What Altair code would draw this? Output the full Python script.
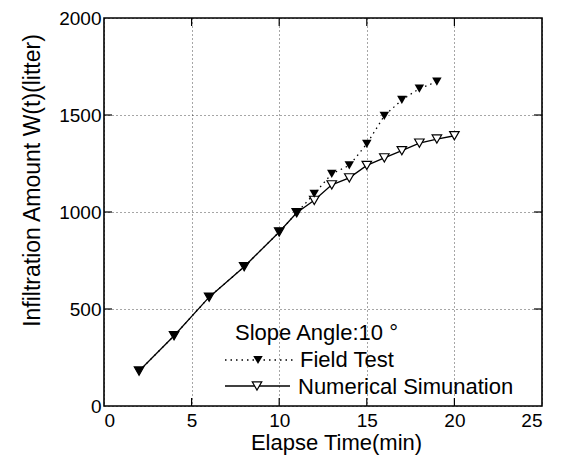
import altair as alt
import pandas as pd

# Data
field_time = [2, 4, 6, 8, 10, 11, 12, 13, 14, 15, 16, 17, 18, 19]
field_amount = [180, 362, 561, 718, 897, 996, 1094, 1197, 1240, 1351, 1496, 1578, 1636, 1672]
num_time = [2, 4, 6, 8, 10, 11, 12, 13, 14, 15, 16, 17, 18, 19, 20]
num_amount = [180, 362, 561, 718, 897, 996, 1060, 1140, 1176, 1240, 1279, 1316, 1355, 1376, 1393]
x_ticks = [0, 5, 10, 15, 20, 25]
y_ticks = [0, 500, 1000, 1500, 2000]
x_inner_ticks = [5, 10, 15, 20]
y_inner_ticks = [500, 1000, 1500]

FONT = "Liberation Sans"
W, H = 438, 388

field = pd.DataFrame({"t": field_time, "w": field_amount})
num = pd.DataFrame({"t": num_time, "w": num_amount})

xs = alt.Scale(domain=[0, 25], nice=False)
ys = alt.Scale(domain=[0, 2000], nice=False)

x_axis = alt.Axis(values=x_ticks, format="d", ticks=False, domain=False, grid=True,
                  gridDash=[1, 3], gridColor="#000", gridOpacity=0.7,
                  labelFontSize=19, labelFont=FONT, labelColor="#000", labelPadding=5,
                  title="Elapse Time(min)", titleFontSize=22, titleFont=FONT,
                  titleFontWeight="normal", titleColor="#000",
                  titleX=232, titleY=43, titleBaseline="alphabetic", titleAlign="center")
y_axis = alt.Axis(values=y_ticks, format="d", ticks=False, domain=False, grid=True,
                  gridDash=[1, 3], gridColor="#000", gridOpacity=0.7,
                  labelFontSize=19, labelFont=FONT, labelColor="#000", labelPadding=3,
                  title="Infiltration Amount W(t)(litter)", titleFontSize=23, titleFont=FONT,
                  titleFontWeight="normal", titleColor="#000",
                  titleX=-72, titleY=162, titleBaseline="middle", titleAlign="center")

base_num = alt.Chart(num)
base_field = alt.Chart(field)

num_line = base_num.mark_line(color="#000", strokeWidth=1.3).encode(
    x=alt.X("t:Q", scale=xs, axis=x_axis),
    y=alt.Y("w:Q", scale=ys, axis=y_axis),
)
num_pts = base_num.mark_point(shape="triangle-down", size=90, filled=True,
                              fill="white", stroke="#000", strokeWidth=1.2, opacity=1).encode(
    x=alt.X("t:Q", scale=xs), y=alt.Y("w:Q", scale=ys))
field_line = base_field.mark_line(color="#000", strokeWidth=1.3, strokeDash=[1.5, 4]).encode(
    x=alt.X("t:Q", scale=xs), y=alt.Y("w:Q", scale=ys))
field_pts = base_field.mark_point(shape="triangle-down", size=90, filled=True,
                                  color="#000", opacity=1).encode(
    x=alt.X("t:Q", scale=xs), y=alt.Y("w:Q", scale=ys))

# inward ticks on all four sides
xt = pd.DataFrame({"t": x_inner_ticks})
yt = pd.DataFrame({"w": y_inner_ticks})
tick_b = alt.Chart(xt).mark_rule(color="#000", strokeWidth=1.2).encode(
    x=alt.X("t:Q", scale=xs), y=alt.value(H), y2=alt.value(H - 8))
tick_t = alt.Chart(xt).mark_rule(color="#000", strokeWidth=1.2).encode(
    x=alt.X("t:Q", scale=xs), y=alt.value(0), y2=alt.value(8))
tick_l = alt.Chart(yt).mark_rule(color="#000", strokeWidth=1.2).encode(
    y=alt.Y("w:Q", scale=ys), x=alt.value(0), x2=alt.value(8))
tick_r = alt.Chart(yt).mark_rule(color="#000", strokeWidth=1.2).encode(
    y=alt.Y("w:Q", scale=ys), x=alt.value(W), x2=alt.value(W - 8))

# manual legend
one = alt.Chart(pd.DataFrame({"a": [0]}))
leg_title = one.mark_text(align="left", baseline="middle", font=FONT, fontSize=22, color="#000").encode(
    x=alt.value(131), y=alt.value(315), text=alt.value("Slope Angle:10 °"))
leg_f_line = one.mark_rule(color="#000", strokeWidth=1.3, strokeDash=[1.5, 4]).encode(
    x=alt.value(121), x2=alt.value(189), y=alt.value(342))
leg_f_pt = one.mark_point(shape="triangle-down", size=90, filled=True, color="#000", opacity=1).encode(
    x=alt.value(154), y=alt.value(342))
leg_f_txt = one.mark_text(align="left", baseline="middle", font=FONT, fontSize=22, color="#000").encode(
    x=alt.value(196), y=alt.value(342), text=alt.value("Field Test"))
leg_n_line = one.mark_rule(color="#000", strokeWidth=1.3).encode(
    x=alt.value(121), x2=alt.value(186), y=alt.value(368))
leg_n_pt = one.mark_point(shape="triangle-down", size=90, filled=True, fill="white",
                          stroke="#000", strokeWidth=1.2, opacity=1).encode(
    x=alt.value(153), y=alt.value(368))
leg_n_txt = one.mark_text(align="left", baseline="middle", font=FONT, fontSize=22, color="#000").encode(
    x=alt.value(194), y=alt.value(369), text=alt.value("Numerical Simunation"))

chart = alt.layer(
    num_line, field_line, num_pts, field_pts,
    tick_b, tick_t, tick_l, tick_r,
    leg_title, leg_f_line, leg_f_pt, leg_f_txt, leg_n_line, leg_n_pt, leg_n_txt,
).properties(
    width=W, height=H,
    autosize=alt.AutoSizeParams(type="none"),
    padding={"left": 96, "top": 10, "right": 15, "bottom": 49},
    background="white",
).configure_view(stroke="#000", strokeWidth=1.6)

chart.save("out.html", embed_options={"renderer": "svg", "actions": False})
